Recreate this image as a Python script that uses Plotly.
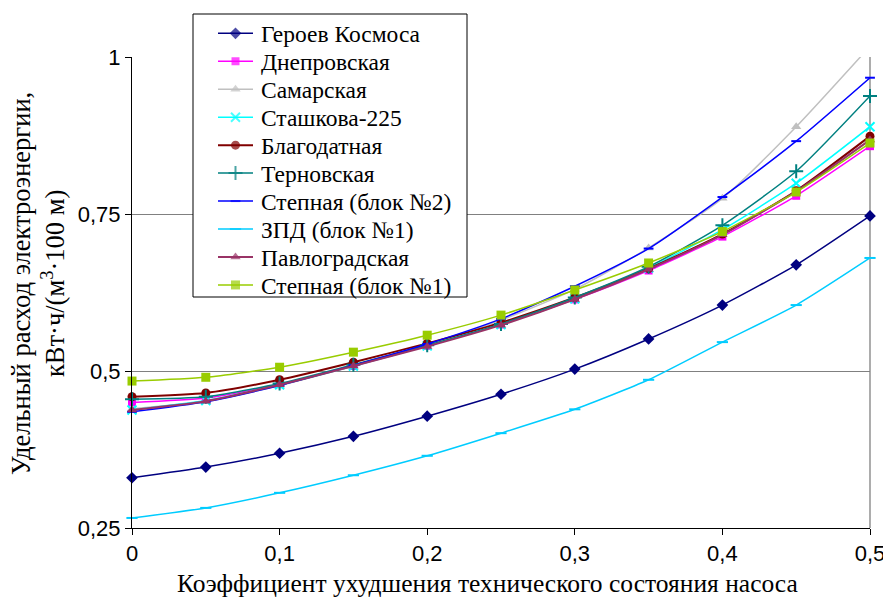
import plotly.graph_objects as go

x_vals = [0, 0.05, 0.1, 0.15, 0.2, 0.25, 0.3, 0.35, 0.4, 0.45, 0.5]

geroev = [0.330, 0.347, 0.369, 0.396, 0.428, 0.463, 0.503, 0.551, 0.605, 0.669, 0.747]
dneprovskaya = [0.450, 0.457, 0.479, 0.508, 0.540, 0.574, 0.614, 0.660, 0.714, 0.779, 0.858]
samarskaya = [0.440, 0.452, 0.477, 0.508, 0.542, 0.581, 0.630, 0.696, 0.775, 0.889, 1.017]
stashkova = [0.438, 0.453, 0.478, 0.508, 0.540, 0.574, 0.615, 0.664, 0.725, 0.799, 0.889]
blagodatnaya = [0.459, 0.465, 0.486, 0.514, 0.544, 0.577, 0.617, 0.663, 0.718, 0.787, 0.874]
ternovskaya = [0.455, 0.459, 0.480, 0.510, 0.541, 0.575, 0.617, 0.666, 0.732, 0.818, 0.938]
stepnaya2 = [0.435, 0.451, 0.477, 0.509, 0.543, 0.583, 0.635, 0.695, 0.777, 0.866, 0.967]
zpd1 = [0.266, 0.282, 0.306, 0.334, 0.365, 0.401, 0.439, 0.486, 0.546, 0.605, 0.680]
pavlogradskaya = [0.438, 0.452, 0.478, 0.508, 0.539, 0.573, 0.614, 0.662, 0.717, 0.786, 0.868]
stepnaya1 = [0.484, 0.490, 0.506, 0.530, 0.557, 0.589, 0.629, 0.672, 0.722, 0.785, 0.863]

names = ["Героев Космоса", "Днепровская", "Самарская", "Сташкова-225", "Благодатная",
         "Терновская", "Степная (блок №2)", "ЗПД (блок №1)", "Павлоградская", "Степная (блок №1)"]
series = [geroev, dneprovskaya, samarskaya, stashkova, blagodatnaya,
          ternovskaya, stepnaya2, zpd1, pavlogradskaya, stepnaya1]
colors = ["#000080", "#FF00FF", "#C0C0C0", "#00FFFF", "#800000",
          "#008080", "#0000FF", "#00CCFF", "#993366", "#99CC00"]
symbols = ["diamond", "square", "triangle-up", "x-thin", "circle",
           "cross-thin", "line-ew", "line-ew", "triangle-up", "square"]
sizes = [9, 8, 9, 9, 9, 10, 7, 8, 9, 9]
widths = [1.5, 1.5, 1.5, 1.5, 2, 1.5, 1.5, 1.5, 2, 1.5]

x_ticks = [0, 0.1, 0.2, 0.3, 0.4, 0.5]
x_ticklabels = ["0", "0,1", "0,2", "0,3", "0,4", "0,5"]
y_ticks = [0.25, 0.5, 0.75, 1]
y_ticklabels = ["0,25", "0,5", "0,75", "1"]

W, H = 883, 599
L, R, T, B = 132, 13, 10, 71
PLOT_TOP = 57
PW, PH = W - L - R, H - T - B


def px_x(p):
    return (p - L) / PW


def px_y(p):
    return (H - B - p) / PH


fig = go.Figure()
for name, ys, c, s, sz, w in zip(names, series, colors, symbols, sizes, widths):
    open_sym = s in ("x-thin", "cross-thin", "line-ew")
    fig.add_trace(go.Scatter(
        x=x_vals, y=ys, name=name, mode="lines+markers", showlegend=False,
        line=dict(color=c, width=w, shape="spline", smoothing=0.6),
        marker=dict(symbol=s, size=sz, color=c,
                    line=dict(color=c, width=2 if open_sym else 0)),
        cliponaxis=False, xaxis="x", yaxis="y",
    ))

# manual legend drawn on a hidden pixel-scaled overlay axis
LEG_X0, LEG_X1, LEG_Y0, LEG_Y1 = 193, 467, 14, 297
ENTRY_Y0, ENTRY_DY = 33.3, 27.96
SAMPLE_X = [218, 235.5, 253]
TEXT_X = 259
annotations = []
for i, (name, c, s, sz, w) in enumerate(zip(names, colors, symbols, sizes, widths)):
    yc = ENTRY_Y0 + i * ENTRY_DY
    open_sym = s in ("x-thin", "cross-thin", "line-ew")
    fig.add_trace(go.Scatter(
        x=SAMPLE_X, y=[yc] * 3, mode="lines+markers", showlegend=False,
        line=dict(color=c, width=w),
        marker=dict(symbol=s, size=[0, sz, 0], color=c,
                    line=dict(color=c, width=2 if open_sym else 0)),
        xaxis="x2", yaxis="y2", hoverinfo="skip", cliponaxis=False,
    ))
    annotations.append(dict(
        text=name, xref="x2", yref="y2", x=TEXT_X, y=yc + 1,
        xanchor="left", yanchor="middle", showarrow=False,
        font=dict(family="Liberation Serif", size=23.5, color="black"),
    ))

annotations += [
    dict(text="Коэффициент ухудшения технического состояния насоса",
         xref="paper", yref="paper", x=px_x(487), y=px_y(583),
         xanchor="center", yanchor="middle", showarrow=False,
         font=dict(family="Liberation Serif", size=25.5, color="black")),
    dict(text="Удельный расход электроэнергии,<br>кВт·ч/(м<sup>3</sup>·100 м)",
         xref="paper", yref="paper", x=px_x(38), y=px_y(284),
         xanchor="center", yanchor="middle", showarrow=False, textangle=-90,
         font=dict(family="Liberation Serif", size=26.5, color="black")),
]

fig.update_layout(
    width=W, height=H,
    margin=dict(l=L, r=R, t=T, b=B),
    paper_bgcolor="white", plot_bgcolor="rgba(0,0,0,0)",
    showlegend=False,
    xaxis=dict(
        range=[0, 0.5], tickvals=x_ticks, ticktext=x_ticklabels,
        showgrid=False, zeroline=False, automargin=False,
        ticklabeloverflow="allow",
        showline=True, linecolor="black", linewidth=1,
        ticks="outside", ticklen=6, tickcolor="black",
        tickfont=dict(family="Liberation Sans", size=22, color="black"),
    ),
    yaxis=dict(
        range=[0.25, 1], tickvals=y_ticks, ticktext=y_ticklabels,
        domain=[0, px_y(PLOT_TOP)],
        showgrid=True, gridcolor="#808080", gridwidth=1.3, zeroline=False,
        automargin=False,
        showline=True, linecolor="black", linewidth=1,
        ticks="outside", ticklen=6, tickcolor="black",
        tickfont=dict(family="Liberation Sans", size=22, color="black"),
    ),
    xaxis2=dict(range=[L, W - R], domain=[0, 1], anchor="y2", visible=False,
                fixedrange=True, automargin=False),
    yaxis2=dict(range=[H - B, T], domain=[0, 1], anchor="x2", visible=False,
                fixedrange=True, automargin=False),
    shapes=[
        dict(type="line", xref="paper", yref="paper", x0=1, x1=1, y0=0, y1=px_y(PLOT_TOP),
             line=dict(color="#808080", width=1.3), layer="below"),
        dict(type="rect", xref="x2", yref="y2", x0=LEG_X0, x1=LEG_X1, y0=LEG_Y0, y1=LEG_Y1,
             fillcolor="white", line=dict(color="black", width=1), layer="below"),
    ],
    annotations=annotations,
)

fig.write_html("out.html")
